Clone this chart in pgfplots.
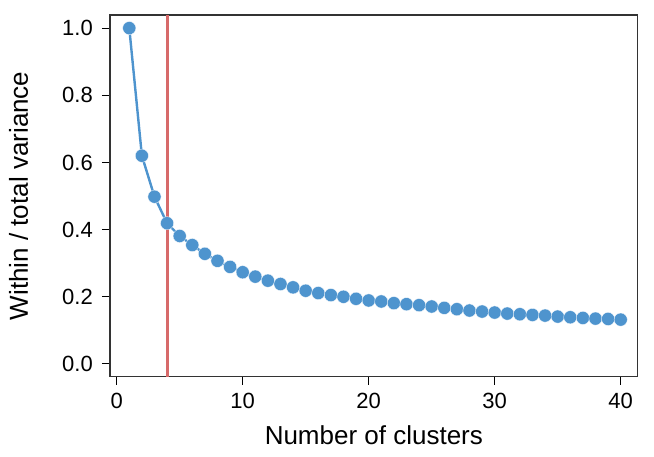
\documentclass[border=0pt]{standalone}
\usepackage{pgfplots}
\pgfplotsset{compat=1.18}
\usepackage{fontspec}
\setmainfont{Liberation Sans}
\definecolor{ptblue}{HTML}{4E94CE}
\definecolor{vred}{HTML}{D76A6A}

\pgfplotstableread{
k   v
1   1.000
2   0.620
3   0.498
4   0.419
5   0.381
6   0.354
7   0.328
8   0.307
9   0.289
10  0.273
11  0.260
12  0.248
13  0.238
14  0.228
15  0.218
16  0.211
17  0.205
18  0.200
19  0.194
20  0.189
21  0.186
22  0.181
23  0.178
24  0.175
25  0.171
26  0.167
27  0.163
28  0.159
29  0.156
30  0.153
31  0.150
32  0.148
33  0.146
34  0.144
35  0.141
36  0.139
37  0.137
38  0.135
39  0.134
40  0.132
}\variance

\begin{document}
\begin{tikzpicture}
% page = reference frame, axis box at (0,0)-(527.7,361.7)
\useasboundingbox (-110pt,-79.3pt) rectangle (544pt,376.7pt);
\begin{axis}[
    at={(0,0)}, anchor=south west,
    scale only axis,
    width=527.7pt, height=361.7pt,
    xmin=-0.53, xmax=41.35,
    ymin=-0.038, ymax=1.039,
    xtick={0,10,20,30,40},
    ytick={0,0.2,0.4,0.6,0.8,1.0},
    /pgf/number format/assume math mode=true,
    tick align=outside,
    major tick length=8pt,
    xtick pos=left, ytick pos=left,
    tick style={black, line width=1pt},
    axis line style={line width=1.3pt, black!80},
    ticklabel style={font=\fontsize{22}{26}\selectfont, inner sep=0pt},
    xticklabel style={yshift=-8.5pt},
    yticklabel style={xshift=-9pt,
        /pgf/number format/fixed,
        /pgf/number format/fixed zerofill,
        /pgf/number format/precision=1},
    label style={font=\fontsize{26}{30}\selectfont, inner sep=0pt},
    xlabel={Number of clusters},
    ylabel={Within / total variance},
    xlabel style={at={(axis description cs:0.5,0)}, anchor=base, yshift=-68pt},
    ylabel style={at={(axis description cs:0,0.5)}, anchor=base, yshift=82pt},
]
\addplot[vred, line width=3pt] coordinates {(4,-0.038) (4,1.039)};
\addplot[ptblue, line width=2.4pt, mark=*, mark size=6.6pt,
    mark options={fill=ptblue, draw=white, line width=0.3pt}] table[x=k, y=v] {\variance};
\end{axis}
\end{tikzpicture}
\end{document}
